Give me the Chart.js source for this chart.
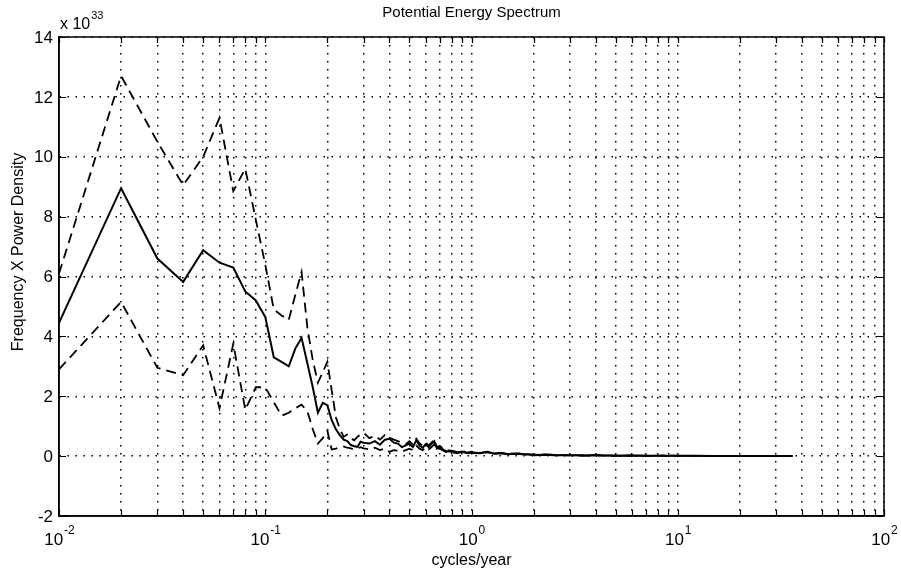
<!DOCTYPE html>
<html>
<head>
<meta charset="utf-8">
<title>Potential Energy Spectrum</title>
<script src="https://cdn.jsdelivr.net/npm/chart.js@4.4.0/dist/chart.umd.min.js"></script>
<style>
    html, body { margin: 0; padding: 0; background: #fff; }
    #wrap { width: 901px; height: 573px; position: relative; }
</style>
</head>
<body>
<div id="wrap"><canvas id="spectrum"></canvas></div>
<script>
// cycles/year
const freq = [
    0.01, 0.02, 0.03, 0.04, 0.05, 0.06, 0.07, 0.08, 0.09, 0.10,
    0.11, 0.12, 0.13, 0.14, 0.15, 0.16, 0.17, 0.18, 0.19, 0.20,
    0.21, 0.22, 0.23, 0.24, 0.25, 0.26, 0.27, 0.28, 0.29, 0.30,
    0.32, 0.34, 0.36, 0.38, 0.40, 0.42, 0.44, 0.46, 0.48, 0.50,
    0.52, 0.54, 0.56, 0.58, 0.60, 0.62, 0.64, 0.66, 0.68, 0.70,
    0.75, 0.80, 0.85, 0.90, 0.95, 1.0,
    1.1, 1.2, 1.3, 1.4, 1.5, 1.7, 2.0, 2.3, 2.6, 3.0, 3.5, 4, 5, 6, 7, 8, 10, 12, 15, 20, 25, 30, 36
];

// frequency x power density, units of 1e33
const spectrum = [
    4.45, 8.95, 6.6, 5.82, 6.88, 6.46, 6.3, 5.5, 5.2, 4.65,
    3.3, 3.15, 3.0, 3.6, 3.95, 3.1, 2.3, 1.45, 1.78, 1.7,
    1.2, 0.9, 0.7, 0.55, 0.5, 0.37, 0.33, 0.31, 0.48, 0.45,
    0.42, 0.5, 0.38, 0.55, 0.58, 0.45, 0.42, 0.3, 0.36, 0.42,
    0.3, 0.53, 0.35, 0.28, 0.4, 0.3, 0.42, 0.5, 0.25, 0.3,
    0.17, 0.15, 0.12, 0.15, 0.1, 0.13,
    0.1, 0.14, 0.08, 0.1, 0.07, 0.08, 0.04, 0.05, 0.03, 0.03, 0.02, 0.03, 0.015, 0.02, 0.01, 0.015, 0.01, 0.01, 0.008, 0.005, 0.005, 0.003, 0.002
];

const upperBound = [
    6.1, 12.7, 10.5, 9.05, 10.0, 11.3, 8.85, 9.6, 7.9, 6.4,
    4.9, 4.7, 4.55, 5.4, 6.15, 4.3, 3.2, 2.45, 2.8, 3.15,
    2.2, 1.3, 0.9, 0.65, 0.72, 0.6, 0.53, 0.65, 0.72, 0.78,
    0.6, 0.68, 0.55, 0.7, 0.62, 0.55, 0.5, 0.45, 0.4, 0.5,
    0.38, 0.58, 0.42, 0.35, 0.46, 0.35, 0.45, 0.55, 0.3, 0.34,
    0.2, 0.18, 0.14, 0.17, 0.12, 0.15,
    0.11, 0.15, 0.09, 0.11, 0.08, 0.09, 0.05, 0.06, 0.035, 0.035, 0.025, 0.035, 0.018, 0.022, 0.012, 0.017, 0.012, 0.011, 0.009, 0.006, 0.006, 0.004, 0.003
];

const lowerBound = [
    2.9, 5.15, 2.95, 2.7, 3.7, 1.6, 3.76, 1.55, 2.3, 2.3,
    1.8, 1.35, 1.45, 1.6, 1.72, 1.5, 0.9, 0.42, 0.6, 0.85,
    0.22, 0.25, 0.3, 0.32, 0.28, 0.26, 0.22, 0.26, 0.3, 0.26,
    0.22, 0.28, 0.2, 0.25, 0.14, 0.2, 0.18, 0.15, 0.2, 0.25,
    0.2, 0.35, 0.25, 0.2, 0.3, 0.22, 0.3, 0.4, 0.2, 0.25,
    0.14, 0.12, 0.1, 0.13, 0.08, 0.11,
    0.09, 0.13, 0.07, 0.09, 0.06, 0.07, 0.03, 0.04, 0.025, 0.025, 0.015, 0.025, 0.012, 0.018, 0.008, 0.013, 0.008, 0.009, 0.007, 0.004, 0.004, 0.002, 0.001
];

// axis ticks
const decades = [0.01, 0.1, 1, 10];
const multipliers = [1, 2, 3, 4, 5, 6, 7, 8, 9];
const xMajorExponents = [-2, -1, 0, 1, 2];
const yTicks = [-2, 0, 2, 4, 6, 8, 10, 12, 14];

const xTicks = [];
decades.forEach(d => multipliers.forEach(m => xTicks.push(+(d * m).toPrecision(3))));
xTicks.push(100);

const FONT = '"Liberation Sans", Arial, Helvetica, sans-serif';

function toPoints(values){
    return freq.map((f, i) => ({x: f, y: values[i]}));
}

const matlabLook = {
    id: 'matlabLook',
    afterDraw: (chart) => {
        const {ctx, chartArea: area, scales} = chart;
        const x = scales.x;
        const y = scales.y;
        ctx.save();

        // box
        ctx.strokeStyle = '#000';
        ctx.lineWidth = 1.5;
        ctx.strokeRect(area.left, area.top, area.right - area.left, area.bottom - area.top);

        // inward ticks
        ctx.lineWidth = 1.2;
        ctx.beginPath();
        xTicks.forEach(v => {
            const px = Math.round(x.getPixelForValue(v)) + 0.5;
            ctx.moveTo(px, area.bottom);
            ctx.lineTo(px, area.bottom - 6);
            ctx.moveTo(px, area.top);
            ctx.lineTo(px, area.top + 6);
        });
        yTicks.forEach(v => {
            const py = Math.round(y.getPixelForValue(v)) + 0.5;
            ctx.moveTo(area.left, py);
            ctx.lineTo(area.left + 7, py);
            ctx.moveTo(area.right, py);
            ctx.lineTo(area.right - 7, py);
        });
        ctx.stroke();

        ctx.fillStyle = '#000';

        // y tick labels
        ctx.font = '17px ' + FONT;
        ctx.textAlign = 'right';
        ctx.textBaseline = 'middle';
        yTicks.forEach(v => {
            ctx.fillText(String(v), area.left - 6, y.getPixelForValue(v) + 1);
        });

        // x tick labels 10^n
        xMajorExponents.forEach(e => {
            const px = x.getPixelForValue(Math.pow(10, e));
            const base = '10';
            const sup = String(e);
            ctx.font = '17px ' + FONT;
            const wb = ctx.measureText(base).width;
            ctx.font = '12px ' + FONT;
            const ws = ctx.measureText(sup).width;
            const start = px - (wb + ws) / 2;
            ctx.textAlign = 'left';
            ctx.textBaseline = 'alphabetic';
            ctx.font = '17px ' + FONT;
            ctx.fillText(base, start, area.bottom + 29);
            ctx.font = '12px ' + FONT;
            ctx.fillText(sup, start + wb + 1, area.bottom + 18);
        });

        // axis titles
        ctx.font = '16px ' + FONT;
        ctx.textAlign = 'center';
        ctx.textBaseline = 'middle';
        ctx.fillText('cycles/year', (area.left + area.right) / 2, 561);

        ctx.save();
        ctx.translate(19, 252);
        ctx.rotate(-Math.PI / 2);
        ctx.fillText('Frequency X Power Density', 0, 0);
        ctx.restore();

        // title
        ctx.font = '15px ' + FONT;
        ctx.fillText('Potential Energy Spectrum', (area.left + area.right) / 2, 13);

        // exponent
        ctx.textAlign = 'left';
        ctx.textBaseline = 'alphabetic';
        ctx.font = '16px ' + FONT;
        ctx.fillText('x 10', 60, 29);
        const w10 = ctx.measureText('x 10').width;
        ctx.font = '11px ' + FONT;
        ctx.fillText('33', 60 + w10 + 1, 19);

        ctx.restore();
    }
};

new Chart(document.getElementById('spectrum'), {
    type: 'line',
    data: {
        datasets: [
            {
                label: 'spectrum',
                data: toPoints(spectrum),
                borderColor: '#000',
                borderWidth: 2,
                pointRadius: 0,
                tension: 0
            },
            {
                label: 'upper',
                data: toPoints(upperBound),
                borderColor: '#000',
                borderWidth: 1.8,
                borderDash: [10, 6],
                pointRadius: 0,
                tension: 0
            },
            {
                label: 'lower',
                data: toPoints(lowerBound),
                borderColor: '#000',
                borderWidth: 1.8,
                borderDash: [10, 6],
                pointRadius: 0,
                tension: 0
            }
        ]
    },
    options: {
        responsive: true,
        maintainAspectRatio: false,
        animation: false,
        layout: {
            padding: {top: 37, right: 17, left: 0, bottom: 0}
        },
        plugins: {
            legend: {display: false},
            tooltip: {enabled: false}
        },
        scales: {
            x: {
                type: 'logarithmic',
                min: 0.01,
                max: 100,
                afterFit: (scale) => { scale.height = 57; },
                afterBuildTicks: (scale) => {
                    scale.ticks = xTicks.map(v => ({value: v}));
                },
                ticks: {display: false, autoSkip: false},
                grid: {color: '#000', lineWidth: 1.5, drawTicks: false},
                border: {display: true, color: '#000', width: 1.5, dash: [1.5, 6.5]}
            },
            y: {
                type: 'linear',
                min: -2,
                max: 14,
                afterFit: (scale) => { scale.width = 59; },
                afterBuildTicks: (scale) => {
                    scale.ticks = yTicks.map(v => ({value: v}));
                },
                ticks: {display: false},
                grid: {color: '#000', lineWidth: 1.5, drawTicks: false},
                border: {display: true, color: '#000', width: 1.5, dash: [1.5, 6.5]}
            }
        }
    },
    plugins: [matlabLook]
});
</script>
</body>
</html>
